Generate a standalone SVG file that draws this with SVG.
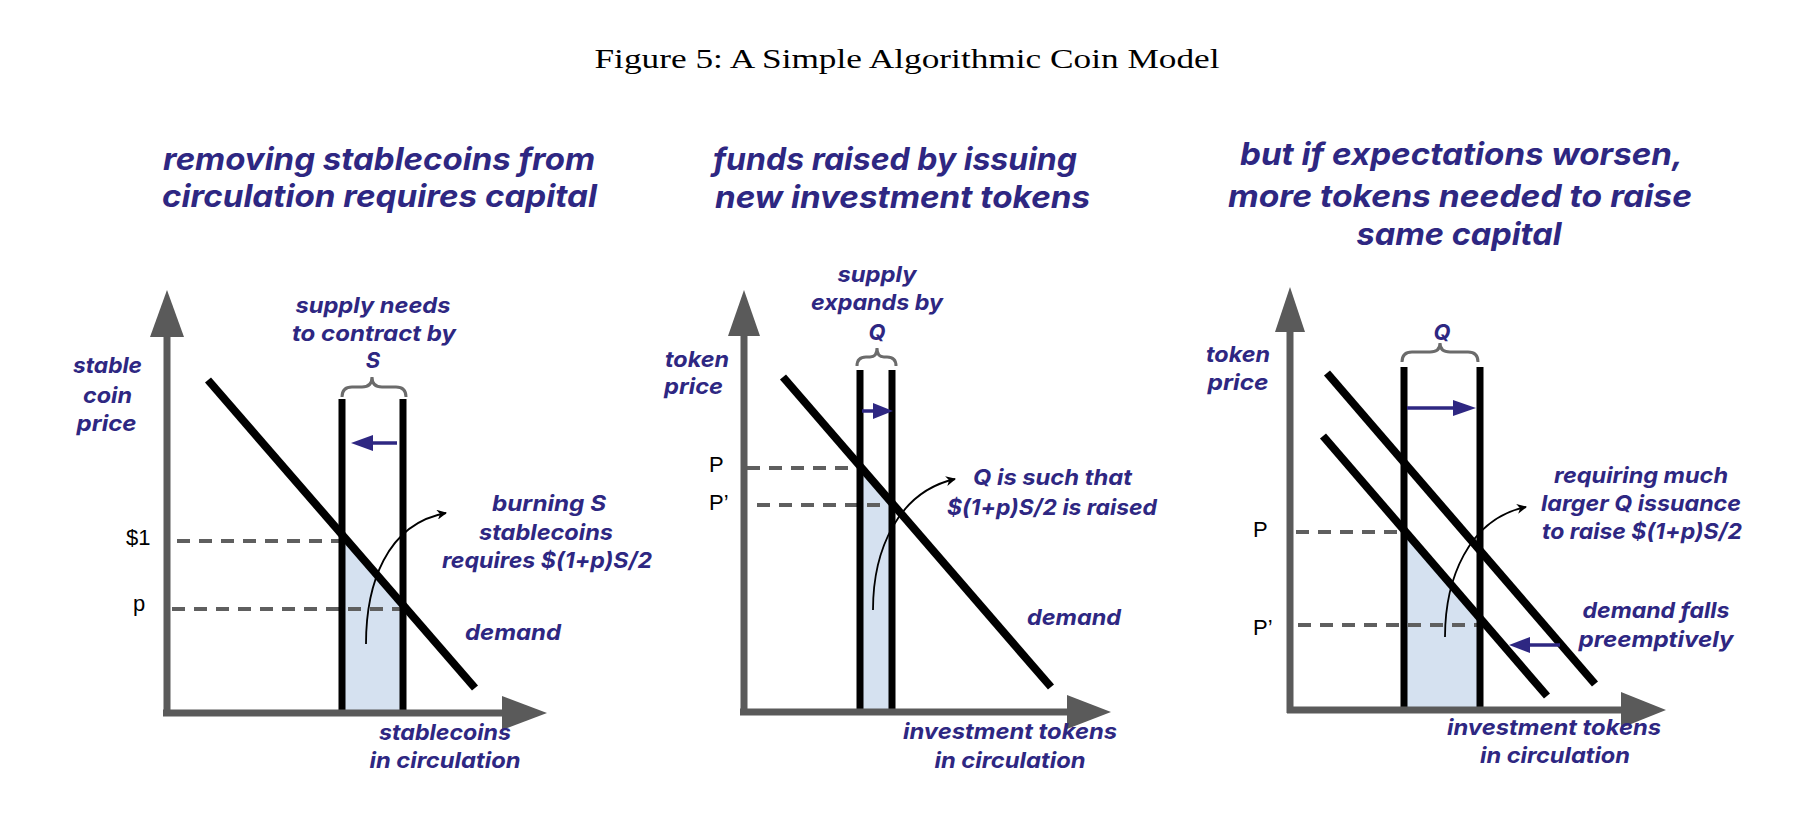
<svg xmlns="http://www.w3.org/2000/svg" width="1794" height="840" viewBox="0 0 1794 840">
<defs>
<style>
.t{font-family:Inter,"DejaVu Sans",sans-serif;font-weight:700;font-style:italic;fill:#2e2782}
.ttl{font-size:31px}
.lb{font-size:22px}
.num{font-family:"Liberation Sans",Arial,sans-serif;font-size:22px;fill:#000}
.ax{stroke:#5a5a5a;stroke-width:7;fill:none}
.axh{fill:#5a5a5a}
.dem{stroke:#000;stroke-width:8}
.sup{stroke:#000;stroke-width:7}
.dash{stroke:#5f5f5f;stroke-width:4;stroke-dasharray:13 9;fill:none}
.shade{fill:#d5e1f0}
.brace{stroke:#6b6b6b;stroke-width:3;fill:none}
.parr{stroke:#2e2782;stroke-width:3.5}
.parrh{fill:#2e2782}
.curve{stroke:#000;stroke-width:1.8;fill:none;marker-end:url(#ah)}
</style>
<marker id="ah" viewBox="0 0 10 10" refX="9" refY="5" markerWidth="10" markerHeight="10" markerUnits="userSpaceOnUse" orient="auto">
<path d="M0,0 L10,5 L0,10 L3,5 z" fill="#000"/>
</marker>
</defs>
<rect width="1794" height="840" fill="#fff"/>
<text x="907" y="68" text-anchor="middle" font-family="'Liberation Serif','Times New Roman',serif" font-size="28" textLength="625" lengthAdjust="spacingAndGlyphs" fill="#000">Figure 5: A Simple Algorithmic Coin Model</text>

<!-- Panel 1 -->
<g id="panel1">
<g id="p1-title" class="t ttl" text-anchor="middle">
<text x="379" y="170" textLength="432" lengthAdjust="spacingAndGlyphs">removing stablecoins from</text>
<text x="379.5" y="207" textLength="435" lengthAdjust="spacingAndGlyphs">circulation requires capital</text>
</g>
<polygon id="p1-area" class="shade" points="343,536 403,606 403,712 343,712"/>
<g id="p1-dashes">
<line class="dash" x1="177" y1="541" x2="343" y2="541"/>
<line class="dash" x1="172" y1="609" x2="405" y2="609"/>
</g>
<g id="p1-supply">
<line class="sup" x1="342" y1="399" x2="342" y2="711"/>
<line class="sup" x1="403" y1="399" x2="403" y2="711"/>
</g>
<line id="p1-demand" class="dem" x1="208" y1="380" x2="475" y2="688"/>
<g id="p1-axes">
<line class="ax" x1="167" y1="333" x2="167" y2="716"/>
<polygon class="axh" points="167,290 150,337 184,337"/>
<line class="ax" x1="163" y1="713" x2="504" y2="713"/>
<polygon class="axh" points="547,713 502,696 502,730"/>
</g>
<path id="p1-brace" class="brace" d="M342,397 Q342,387 352,387 L362,387 Q372,387 372,377 Q372,387 382,387 L396,387 Q406,387 406,397"/>
<g id="p1-shift">
<line class="parr" x1="397" y1="443" x2="370" y2="443"/>
<polygon class="parrh" points="351,443 373,435 373,451"/>
</g>
<path id="p1-callout" class="curve" d="M366,644 C366,585 386,524 446,513"/>
<g id="p1-labels" class="t lb" text-anchor="middle">
<text x="373" y="313" textLength="155" lengthAdjust="spacingAndGlyphs">supply needs</text>
<text x="374" y="341" textLength="164" lengthAdjust="spacingAndGlyphs">to contract by</text>
<text x="373" y="368">S</text>
<text x="107.5" y="373" textLength="69" lengthAdjust="spacingAndGlyphs">stable</text>
<text x="107.5" y="403" textLength="49" lengthAdjust="spacingAndGlyphs">coin</text>
<text x="106.5" y="431" textLength="60" lengthAdjust="spacingAndGlyphs">price</text>
<text x="549" y="511" textLength="114" lengthAdjust="spacingAndGlyphs">burning S</text>
<text x="546" y="540" textLength="134" lengthAdjust="spacingAndGlyphs">stablecoins</text>
<text x="547" y="568" textLength="210" lengthAdjust="spacingAndGlyphs">requires $(1+p)S/2</text>
<text x="513" y="640" textLength="96" lengthAdjust="spacingAndGlyphs">demand</text>
<text x="445" y="740" textLength="132" lengthAdjust="spacingAndGlyphs">stablecoins</text>
<text x="445" y="768" textLength="151" lengthAdjust="spacingAndGlyphs">in circulation</text>
</g>
<g id="p1-ticks" class="num">
<text x="126" y="545">$1</text>
<text x="133" y="611">p</text>
</g>
</g>

<!-- Panel 2 -->
<g id="panel2">
<g id="p2-title" class="t ttl" text-anchor="middle">
<text x="895" y="170" textLength="364" lengthAdjust="spacingAndGlyphs">funds raised by issuing</text>
<text x="902.5" y="208" textLength="375" lengthAdjust="spacingAndGlyphs">new investment tokens</text>
</g>
<polygon id="p2-area" class="shade" points="860,466 892,503 892,710 860,710"/>
<g id="p2-dashes">
<line class="dash" x1="747" y1="468" x2="857" y2="468"/>
<line class="dash" x1="757" y1="505" x2="890" y2="505"/>
</g>
<g id="p2-supply">
<line class="sup" x1="860" y1="370" x2="860" y2="710"/>
<line class="sup" x1="892" y1="370" x2="892" y2="710"/>
</g>
<line id="p2-demand" class="dem" x1="783" y1="377" x2="1051" y2="687"/>
<g id="p2-axes">
<line class="ax" x1="744" y1="333" x2="744" y2="715"/>
<polygon class="axh" points="744,290 728,336 760,336"/>
<line class="ax" x1="740" y1="712" x2="1070" y2="712"/>
<polygon class="axh" points="1111,712 1067,695 1067,729"/>
</g>
<path id="p2-brace" class="brace" d="M857,366 Q857,357 866,357 L870,357 Q877,357 877,348 Q877,357 884,357 L887,357 Q896,357 896,366"/>
<g id="p2-shift">
<line class="parr" x1="862" y1="411" x2="876" y2="411"/>
<polygon class="parrh" points="893,411 873,403 873,419"/>
</g>
<path id="p2-callout" class="curve" d="M873,610 C873,550 898,492 955,479"/>
<g id="p2-labels" class="t lb" text-anchor="middle">
<text x="877" y="282" textLength="79" lengthAdjust="spacingAndGlyphs">supply</text>
<text x="877" y="310" textLength="132" lengthAdjust="spacingAndGlyphs">expands by</text>
<text x="877" y="340">Q</text>
<text x="697" y="367" textLength="64" lengthAdjust="spacingAndGlyphs">token</text>
<text x="693.5" y="394" textLength="59" lengthAdjust="spacingAndGlyphs">price</text>
<text x="1052.5" y="485" textLength="159" lengthAdjust="spacingAndGlyphs">Q is such that</text>
<text x="1052" y="515" textLength="210" lengthAdjust="spacingAndGlyphs">$(1+p)S/2 is raised</text>
<text x="1074" y="625" textLength="94" lengthAdjust="spacingAndGlyphs">demand</text>
<text x="1010" y="739" textLength="214" lengthAdjust="spacingAndGlyphs">investment tokens</text>
<text x="1010" y="768" textLength="151" lengthAdjust="spacingAndGlyphs">in circulation</text>
</g>
<g id="p2-ticks" class="num">
<text x="709" y="472">P</text>
<text x="709" y="510">P’</text>
</g>
</g>

<!-- Panel 3 -->
<g id="panel3">
<g id="p3-title" class="t ttl" text-anchor="middle">
<text x="1461.5" y="165" textLength="443" lengthAdjust="spacingAndGlyphs">but if expectations worsen,</text>
<text x="1460" y="207" textLength="464" lengthAdjust="spacingAndGlyphs">more tokens needed to raise</text>
<text x="1459" y="245" textLength="205" lengthAdjust="spacingAndGlyphs">same capital</text>
</g>
<polygon id="p3-area" class="shade" points="1404,531 1480,620 1480,707 1404,707"/>
<g id="p3-dashes">
<line class="dash" x1="1296" y1="532" x2="1402" y2="532"/>
<line class="dash" x1="1298" y1="625" x2="1479" y2="625"/>
</g>
<g id="p3-supply">
<line class="sup" x1="1404" y1="367" x2="1404" y2="707"/>
<line class="sup" x1="1480" y1="367" x2="1480" y2="707"/>
</g>
<g id="p3-demand">
<line class="dem" x1="1327" y1="373" x2="1595" y2="684"/>
<line class="dem" x1="1323" y1="436" x2="1547" y2="696"/>
</g>
<g id="p3-axes">
<line class="ax" x1="1290" y1="328" x2="1290" y2="713"/>
<polygon class="axh" points="1290,287 1275,332 1305,332"/>
<line class="ax" x1="1287" y1="710" x2="1623" y2="710"/>
<polygon class="axh" points="1666,710 1621,692 1621,728"/>
</g>
<path id="p3-brace" class="brace" d="M1402,362 Q1402,352 1412,352 L1430,352 Q1440,352 1440,343 Q1440,352 1450,352 L1468,352 Q1478,352 1478,362"/>
<g id="p3-shift">
<line class="parr" x1="1407" y1="408" x2="1456" y2="408"/>
<polygon class="parrh" points="1476,408 1453,400 1453,416"/>
</g>
<g id="p3-fall">
<line class="parr" x1="1560" y1="645" x2="1527" y2="645"/>
<polygon class="parrh" points="1509,645 1530,637 1530,653"/>
</g>
<path id="p3-callout" class="curve" d="M1445,637 C1445,580 1468,519 1526,507"/>
<g id="p3-labels" class="t lb" text-anchor="middle">
<text x="1442" y="340">Q</text>
<text x="1238" y="362" textLength="64" lengthAdjust="spacingAndGlyphs">token</text>
<text x="1238" y="390" textLength="61" lengthAdjust="spacingAndGlyphs">price</text>
<text x="1641" y="483" textLength="174" lengthAdjust="spacingAndGlyphs">requiring much</text>
<text x="1641" y="511" textLength="200" lengthAdjust="spacingAndGlyphs">larger Q issuance</text>
<text x="1642" y="539" textLength="200" lengthAdjust="spacingAndGlyphs">to raise $(1+p)S/2</text>
<text x="1656" y="618" textLength="147" lengthAdjust="spacingAndGlyphs">demand falls</text>
<text x="1656" y="647" textLength="155" lengthAdjust="spacingAndGlyphs">preemptively</text>
<text x="1554" y="735" textLength="214" lengthAdjust="spacingAndGlyphs">investment tokens</text>
<text x="1555" y="763" textLength="150" lengthAdjust="spacingAndGlyphs">in circulation</text>
</g>
<g id="p3-ticks" class="num">
<text x="1253" y="537">P</text>
<text x="1253" y="635">P’</text>
</g>
</g>
</svg>
